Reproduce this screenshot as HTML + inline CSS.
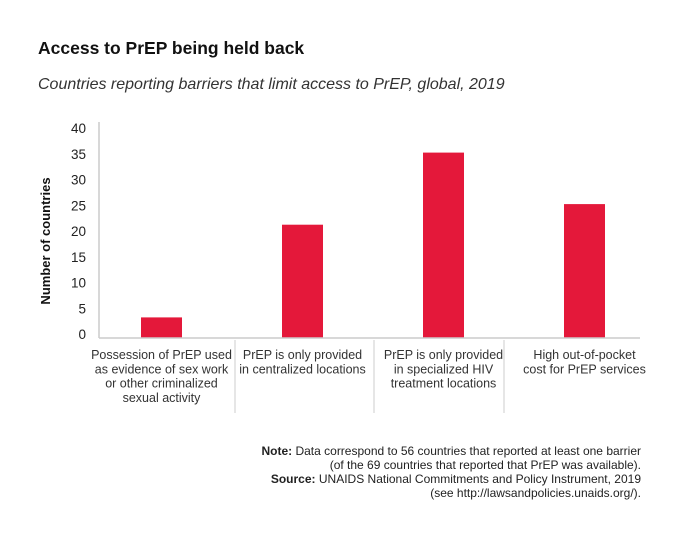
<!DOCTYPE html>
<html><head><meta charset="utf-8"><style>
body{margin:0;width:680px;height:535px;background:#fff;font-family:"Liberation Sans",sans-serif;color:#222;overflow:hidden}
svg{position:absolute;left:0;top:0}
</style></head><body>
<svg width="680" height="535" id="chart">
<text x="38" y="54" font-size="17.5" font-weight="bold" fill="#111">Access to PrEP being held back</text>
<text x="38" y="89" font-size="16" font-style="italic" fill="#333">Countries reporting barriers that limit access to PrEP, global, 2019</text>
<text transform="translate(50,241) rotate(-90)" text-anchor="middle" font-size="13" font-weight="bold" fill="#111">Number of countries</text>
<g id="yticks"></g><g id="bars"></g><g id="xlabels"></g>
<line x1="99" y1="122" x2="99" y2="338" stroke="#ccc" stroke-width="1.5"/>
<line x1="99" y1="338" x2="640" y2="338" stroke="#ccc" stroke-width="1.5"/>
<line x1="235" y1="340" x2="235" y2="413" stroke="#ccc"/>
<line x1="374" y1="340" x2="374" y2="413" stroke="#ccc"/>
<line x1="504" y1="340" x2="504" y2="413" stroke="#ccc"/>
<g font-size="12" text-anchor="end" fill="#222">
<text x="641" y="455"><tspan font-weight="bold">Note:</tspan> Data correspond to 56 countries that reported at least one barrier</text>
<text x="641" y="469">(of the 69 countries that reported that PrEP was available).</text>
<text x="641" y="483"><tspan font-weight="bold">Source:</tspan> UNAIDS National Commitments and Policy Instrument, 2019</text>
<text x="641" y="497">(see http://lawsandpolicies.unaids.org/).</text>
</g>
</svg>
<script>
const categories=[["Possession of PrEP used","as evidence of sex work","or other criminalized","sexual activity"],["PrEP is only provided","in centralized locations"],["PrEP is only provided","in specialized HIV","treatment locations"],["High out-of-pocket","cost for PrEP services"]];
const values=[4,22,36,26];
const yTicks=[0,5,10,15,20,25,30,35,40];
const NS="http://www.w3.org/2000/svg";
const y0=338,pxPer=5.15,bandStart=91,bandW=141,barW=41;
const y=v=>y0-v*pxPer;
const xc=i=>bandStart+bandW*(i+0.5);
function mk(t,a,p){const e=document.createElementNS(NS,t);for(const k in a)e.setAttribute(k,a[k]);p.appendChild(e);return e;}
const gt=document.getElementById('yticks');
yTicks.forEach(v=>{const t=mk('text',{x:86,y:y(v)+1,'text-anchor':'end','font-size':13.5,fill:'#222'},gt);t.textContent=v;

});
const gb=document.getElementById('bars');
values.forEach((v,i)=>{const r=mk('rect',{x:xc(i)-barW/2,y:y(v),width:barW,height:v*pxPer,fill:'#e4183a'},gb);

});
const gx=document.getElementById('xlabels');
categories.forEach((lines,i)=>{const t=mk('text',{'text-anchor':'middle','font-size':12.5,fill:'#333'},gx);


lines.forEach((l,j)=>{const s=mk('tspan',{x:xc(i),y:359+j*14.3},t);s.textContent=l;});});
</script>
</body></html>
